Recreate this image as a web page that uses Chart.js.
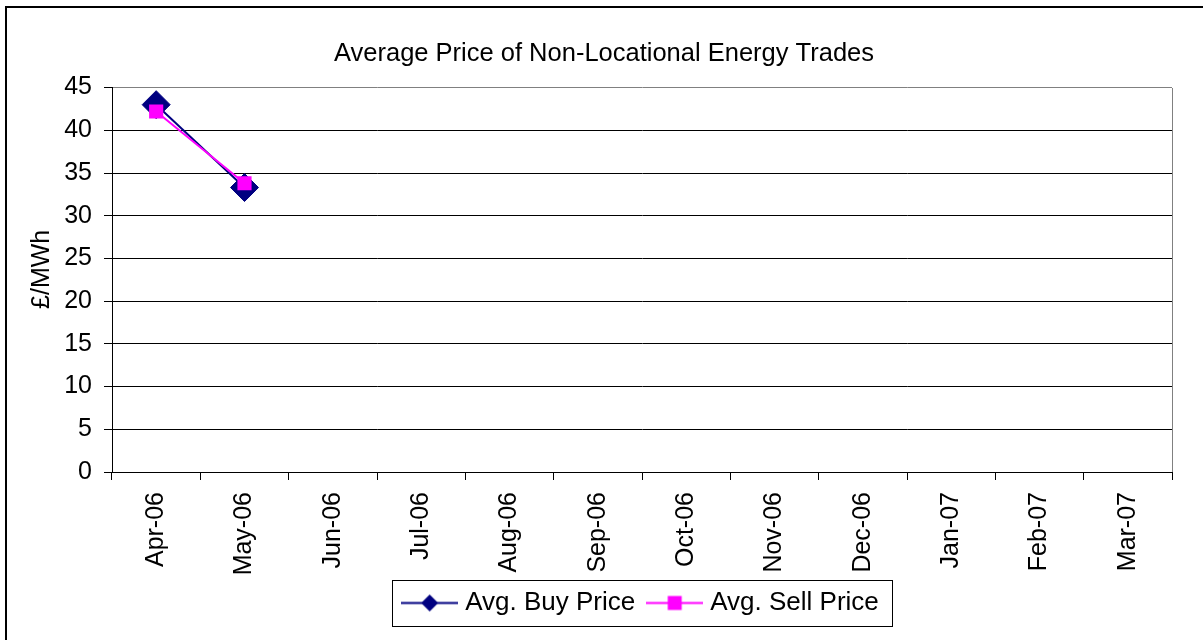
<!DOCTYPE html>
<html>
<head>
<meta charset="utf-8">
<script src="https://cdn.jsdelivr.net/npm/chart.js@4"></script>
<style>
  body { margin: 0; background: #fff; }
  #wrap { width: 1203px; height: 640px; }
</style>
</head>
<body>
<div id="wrap"><canvas id="priceChart" width="1203" height="640"></canvas></div>
<script>
const months = ['Apr-06', 'May-06', 'Jun-06', 'Jul-06', 'Aug-06', 'Sep-06',
                'Oct-06', 'Nov-06', 'Dec-06', 'Jan-07', 'Feb-07', 'Mar-07'];
const buyPrice = [43.0, 33.3, null, null, null, null, null, null, null, null, null, null];
const sellPrice = [42.2, 33.8, null, null, null, null, null, null, null, null, null, null];
const yTicks = [0, 5, 10, 15, 20, 25, 30, 35, 40, 45];

const FONT = '"Liberation Sans", Arial, sans-serif';
const NAVY = '#000080';
const PINK = '#FF00FF';

// legend symbol: line with the marker in the middle, like the Excel legend
function legendSymbol(color, shape) {
    const c = document.createElement('canvas');
    c.width = 57; c.height = 25;
    const g = c.getContext('2d');
    g.strokeStyle = color;
    g.lineWidth = 2;
    g.beginPath();
    g.moveTo(0, 12.5); g.lineTo(57, 12.5);
    g.stroke();
    g.fillStyle = color;
    g.beginPath();
    if (shape === 'diamond') {
        g.moveTo(28.5, 4); g.lineTo(37, 12.5); g.lineTo(28.5, 21); g.lineTo(20, 12.5);
    } else {
        g.rect(21.5, 5.5, 14, 14);
    }
    g.closePath();
    g.fill();
    return c;
}

const frame = {
    id: 'frame',
    afterLayout(chart) {
        // legend sits under the plot centre, overlapping the bottom of the axis box
        const lg = chart.legend;
        const dx = 643 - (lg.left + lg.right) / 2;
        lg.left += dx; lg.right += dx;
        lg.top -= 9; lg.bottom -= 9;
        // title centred over the plot rather than the canvas
        const tb = chart.titleBlock;
        tb.left += 14; tb.right += 14;
    },
    afterDraw(chart) {
        const ctx = chart.ctx;
        const a = chart.chartArea;
        ctx.save();
        ctx.lineWidth = 1;
        // plot area right border
        ctx.strokeStyle = '#808080';
        ctx.beginPath();
        ctx.moveTo(Math.round(a.right) + 0.5, Math.round(a.top));
        ctx.lineTo(Math.round(a.right) + 0.5, Math.round(a.bottom));
        ctx.stroke();
        // legend box
        const hb = chart.legend.legendHitBoxes;
        if (hb && hb.length) {
            const first = hb[0], last = hb[hb.length - 1];
            const l = Math.round(first.left - 15) + 0.5;
            const r = Math.round(last.left + last.width + 13) + 0.5;
            const t = Math.round(first.top - 10) + 0.5;
            const b = Math.round(first.top + first.height + 10) + 0.5;
            ctx.strokeStyle = '#000';
            ctx.strokeRect(l, t, r - l, b - t);
        }
        // outer chart border (only top and left edges fall inside the picture)
        ctx.strokeStyle = '#000';
        ctx.lineWidth = 2;
        ctx.beginPath();
        ctx.moveTo(6, 640); ctx.lineTo(6, 7); ctx.lineTo(1203, 7);
        ctx.stroke();
        ctx.restore();
    }
};

new Chart(document.getElementById('priceChart'), {
    type: 'line',
    data: {
        labels: months,
        datasets: [{
            label: 'Avg. Buy Price',
            data: buyPrice,
            borderColor: NAVY,
            backgroundColor: NAVY,
            borderWidth: 2,
            pointStyle: 'rectRot',
            pointRadius: 14,
            pointBorderWidth: 1,
            tension: 0,
            order: 1
        }, {
            label: 'Avg. Sell Price',
            data: sellPrice,
            borderColor: PINK,
            backgroundColor: PINK,
            borderWidth: 2,
            pointStyle: 'rect',
            pointRadius: 10,
            pointBorderWidth: 0,
            tension: 0,
            order: 0
        }]
    },
    options: {
        responsive: false,
        animation: false,
        layout: { padding: { top: 8, left: 8, right: 31, bottom: 5 } },
        plugins: {
            title: {
                display: true,
                text: 'Average Price of Non-Locational Energy Trades',
                color: '#000',
                font: { family: FONT, size: 25.5, weight: 'normal' },
                padding: { top: 31, bottom: 18 }
            },
            legend: {
                position: 'bottom',
                labels: {
                    usePointStyle: true,
                    pointStyleWidth: 45,
                    boxHeight: 25,
                    padding: 17,
                    color: '#000',
                    font: { family: FONT, size: 26 },
                    sort: (a, b) => a.datasetIndex - b.datasetIndex,
                    generateLabels(chart) {
                        return chart.data.datasets.map((ds, i) => ({
                            text: ds.label,
                            datasetIndex: i,
                            pointStyle: legendSymbol(ds.borderColor, i === 0 ? 'diamond' : 'square'),
                            fillStyle: ds.borderColor,
                            strokeStyle: ds.borderColor,
                            lineWidth: 0,
                            fontColor: '#000',
                            hidden: false
                        }));
                    }
                }
            },
            tooltip: { enabled: false }
        },
        scales: {
            x: {
                offset: true,
                grid: { offset: true, drawOnChartArea: false, drawTicks: true, tickLength: 8, color: '#000' },
                border: { color: '#000', width: 1 },
                ticks: {
                    color: '#000',
                    font: { family: FONT, size: 25 },
                    minRotation: 90,
                    maxRotation: 90,
                    padding: 12,
                    autoSkip: false
                },
                afterFit(scale) { scale.height = 110; }
            },
            y: {
                min: 0,
                max: 45,
                afterBuildTicks(scale) { scale.ticks = yTicks.map(v => ({ value: v })); },
                grid: {
                    color: ctx => ctx.tick && ctx.tick.value === 45 ? '#808080' : '#000',
                    tickColor: '#000',
                    tickLength: 8
                },
                border: { color: '#000', width: 1 },
                ticks: {
                    color: '#000',
                    font: { family: FONT, size: 25 },
                    padding: 12
                },
                title: {
                    display: true,
                    text: '   £/MWh',
                    color: '#000',
                    font: { family: FONT, size: 25 },
                    padding: { top: 19, bottom: 0 }
                },
                afterFit(scale) { scale.width = 104; }
            }
        }
    },
    plugins: [frame]
});
</script>
</body>
</html>
